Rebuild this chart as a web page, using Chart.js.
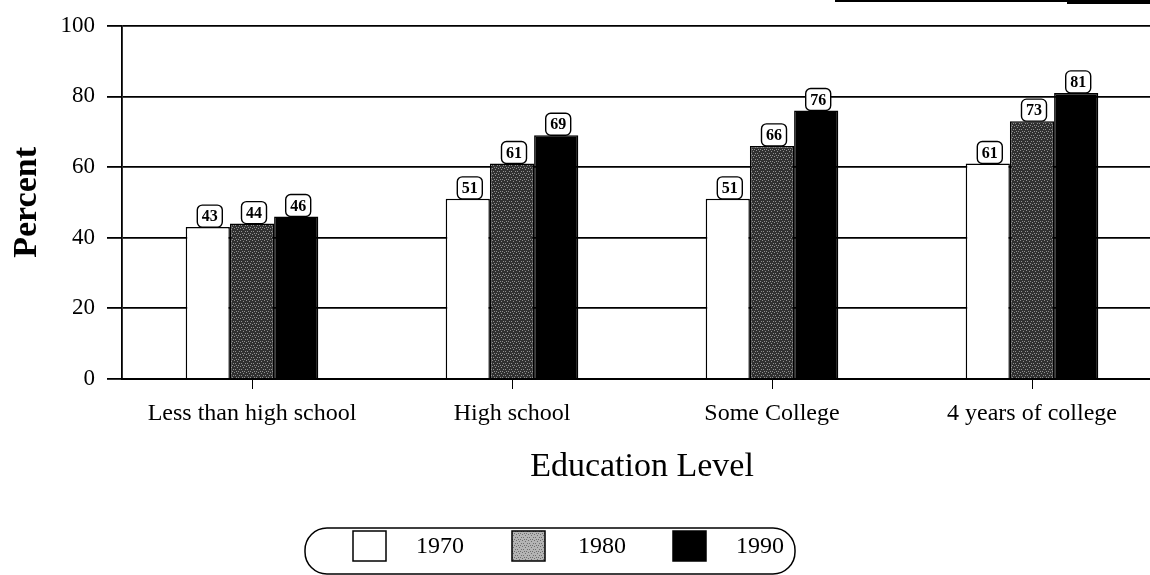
<!DOCTYPE html>
<html>
<head>
<meta charset="utf-8">
<script src="https://cdn.jsdelivr.net/npm/chart.js@4.4.1/dist/chart.umd.min.js"></script>
<style>
    html, body { margin: 0; padding: 0; background: #fff; overflow: hidden; }
    #wrap { width: 1162px; height: 575px; position: relative; }
</style>
</head>
<body>
<div id="wrap"><canvas id="chart"></canvas></div>
<script>
const categories = ['Less than high school', 'High school', 'Some College', '4 years of college'];
const years = ['1970', '1980', '1990'];
const values1970 = [43, 51, 51, 61];
const values1980 = [44, 61, 66, 73];
const values1990 = [46, 69, 76, 81];
const yTicks = [0, 20, 40, 60, 80, 100];

const SERIF = '"Liberation Serif", "DejaVu Serif", serif';

const canvas = document.getElementById('chart');
const ctx = canvas.getContext('2d');

// speckled grey fill like the scanned 1980 bars
const makeSpeckle = (base, dot) => {
    const tile = document.createElement('canvas');
    tile.width = 6;
    tile.height = 6;
    const t = tile.getContext('2d');
    t.fillStyle = base;
    t.fillRect(0, 0, 6, 6);
    t.fillStyle = dot;
    [[0, 0], [3, 1], [5, 3], [1, 3], [4, 5], [2, 5]].forEach(([x, y]) => t.fillRect(x, y, 1, 1));
    return ctx.createPattern(tile, 'repeat');
};

const barSpeckle = makeSpeckle('#303030', '#909090');
const legendSpeckle = makeSpeckle('#b4b4b4', '#6e6e6e');

const seriesFills = ['#ffffff', barSpeckle, '#000000'];
const legendFills = ['#ffffff', legendSpeckle, '#000000'];

const valueBoxes = {
    id: 'valueBoxes',
    afterDatasetsDraw(chart) {
        const c = chart.ctx;
        c.save();
        c.font = `bold 16px ${SERIF}`;
        c.textAlign = 'center';
        c.textBaseline = 'middle';
        chart.data.datasets.forEach((ds, i) => {
            chart.getDatasetMeta(i).data.forEach((bar, j) => {
                const w = 25;
                const h = 22;
                const x = bar.x - w / 2 + 2;
                const y = bar.y - h;
                c.beginPath();
                c.roundRect(x, y, w, h, 5);
                c.fillStyle = '#fff';
                c.fill();
                c.lineWidth = 1.4;
                c.strokeStyle = '#000';
                c.stroke();
                c.fillStyle = '#000';
                c.fillText(ds.data[j], x + w / 2, y + h / 2 + 1);
            });
        });
        c.restore();
    },
};

const boxLegend = {
    id: 'boxLegend',
    afterDraw(chart) {
        const c = chart.ctx;
        c.save();
        c.lineWidth = 1.5;
        c.strokeStyle = '#000';
        c.beginPath();
        c.roundRect(305, 528, 490, 46, 22);
        c.stroke();

        const swatchX = [353, 512, 673];
        const textX = [416, 578, 736];
        c.font = `24px ${SERIF}`;
        c.textBaseline = 'middle';
        chart.data.datasets.forEach((ds, i) => {
            c.fillStyle = legendFills[i];
            c.fillRect(swatchX[i], 531, 33, 30);
            c.lineWidth = 1.5;
            c.strokeRect(swatchX[i], 531, 33, 30);
            c.fillStyle = '#000';
            c.fillText(ds.label, textX[i], 547);
        });

        // scan edge at top right
        c.fillStyle = '#000';
        c.fillRect(835, 0, 330, 2);
        c.fillRect(1067, 0, 100, 4);
        c.restore();
    },
};

new Chart(canvas, {
    type: 'bar',
    data: {
        labels: categories,
        datasets: [values1970, values1980, values1990].map((values, i) => ({
            label: years[i],
            data: values,
            backgroundColor: seriesFills[i],
            borderColor: '#000',
            borderWidth: 1.5,
            borderSkipped: 'start',
            categoryPercentage: 0.51,
            barPercentage: 1,
        })),
    },
    options: {
        responsive: true,
        maintainAspectRatio: false,
        animation: false,
        layout: { padding: { top: 25, right: 0, bottom: 0, left: 0 } },
        plugins: {
            legend: { display: false },
            tooltip: { enabled: false },
        },
        scales: {
            x: {
                afterFit: (scale) => { scale.height = 196; },
                grid: {
                    offset: false,
                    drawOnChartArea: false,
                    color: '#000',
                    tickLength: 10,
                    lineWidth: 1,
                },
                border: { color: '#000', width: 2 },
                ticks: { color: '#000', font: { family: SERIF, size: 24 }, padding: 10, maxRotation: 0 },
                title: {
                    display: true,
                    text: 'Education Level',
                    color: '#000',
                    font: { family: SERIF, size: 34 },
                    padding: { top: 0, bottom: 88 },
                },
            },
            y: {
                min: 0,
                max: 100,
                afterFit: (scale) => { scale.width = 122; },
                afterBuildTicks: (axis) => { axis.ticks = yTicks.map((v) => ({ value: v })); },
                grid: { color: '#000', lineWidth: 1.8, tickLength: 15 },
                border: { color: '#000', width: 1.8 },
                ticks: { color: '#000', font: { family: SERIF, size: 23 }, padding: 12 },
                title: {
                    display: true,
                    text: 'Percent',
                    color: '#000',
                    font: { family: SERIF, size: 34, weight: 'bold' },
                    padding: { top: 7, bottom: 0 },
                },
            },
        },
    },
    plugins: [valueBoxes, boxLegend],
});
</script>
</body>
</html>
